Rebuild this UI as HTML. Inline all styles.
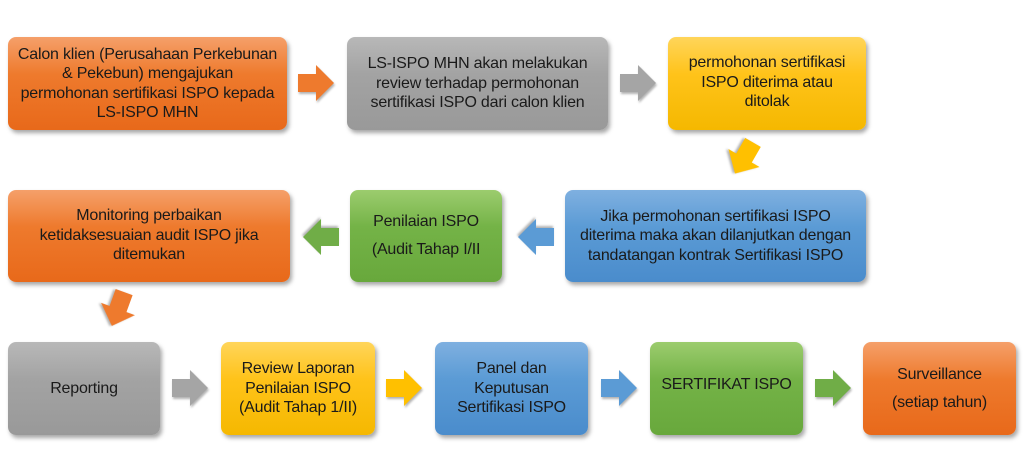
<!DOCTYPE html>
<html><head><meta charset="utf-8"><style>
body{margin:0;width:1024px;height:471px;background:#fff;position:relative;overflow:hidden;font-family:"Liberation Sans",sans-serif}
.b{position:absolute;border-radius:8px;display:flex;align-items:center;justify-content:center;text-align:center;font-size:16px;line-height:19.5px;color:#1a1a1a;box-shadow:2px 3px 4px rgba(0,0,0,.35);box-sizing:border-box;padding:0 2px;white-space:nowrap;letter-spacing:-0.2px}
.o{background:linear-gradient(#f5a06a,#ee7a2d 40%,#e8691a)}
.g{background:linear-gradient(#b8b8b8,#a3a3a3 40%,#999)}
.y{background:linear-gradient(#ffd55a,#ffc31a 40%,#f5b800)}
.bl{background:linear-gradient(#7fb0e0,#5b9bd5 40%,#4a8ccc)}
.gr{background:linear-gradient(#9ccc6e,#74b347 40%,#68a83c)}
svg.a{position:absolute;width:36px;height:36px;filter:drop-shadow(1px 2px 1px rgba(0,0,0,.3))}
</style></head><body>
<div class="b o" style="left:8px;top:37px;width:279px;height:93px">Calon klien (Perusahaan Perkebunan<br>&amp; Pekebun) mengajukan<br>permohonan sertifikasi ISPO kepada<br>LS-ISPO MHN</div>
<div class="b g" style="left:347px;top:37px;width:261px;height:93px">LS-ISPO MHN akan melakukan<br>review terhadap permohonan<br>sertifikasi ISPO dari calon klien</div>
<div class="b y" style="left:668px;top:37px;width:198px;height:93px;align-items:flex-start;padding-top:16px">permohonan sertifikasi<br>ISPO diterima atau<br>ditolak</div>
<div class="b o" style="left:8px;top:190px;width:282px;height:92px;align-items:flex-start;padding-top:16px">Monitoring perbaikan<br>ketidaksesuaian audit ISPO jika<br>ditemukan</div>
<div class="b gr" style="left:350px;top:190px;width:152px;height:92px;line-height:28px">Penilaian ISPO<br>(Audit Tahap I/II</div>
<div class="b bl" style="left:565px;top:190px;width:301px;height:92px">Jika permohonan sertifikasi ISPO<br>diterima maka akan dilanjutkan dengan<br>tandatangan kontrak Sertifikasi ISPO</div>
<div class="b g" style="left:8px;top:342px;width:152px;height:93px">Reporting</div>
<div class="b y" style="left:221px;top:342px;width:154px;height:93px">Review Laporan<br>Penilaian ISPO<br>(Audit Tahap 1/II)</div>
<div class="b bl" style="left:435px;top:342px;width:153px;height:93px">Panel dan<br>Keputusan<br>Sertifikasi ISPO</div>
<div class="b gr" style="left:650px;top:342px;width:153px;height:93px;padding-bottom:8px">SERTIFIKAT ISPO</div>
<div class="b o" style="left:863px;top:342px;width:153px;height:93px;line-height:28px">Surveillance<br>(setiap tahun)</div>

<svg class="a" style="left:298px;top:65px" viewBox="0 0 36 36"><polygon points="0,9 18,9 18,0 36,18 18,36 18,27 0,27" fill="#ee7a2d"/></svg>
<svg class="a" style="left:620px;top:65px" viewBox="0 0 36 36"><polygon points="0,9 18,9 18,0 36,18 18,36 18,27 0,27" fill="#a5a5a5"/></svg>
<svg class="a" style="left:726px;top:140px;transform:rotate(120deg)" viewBox="0 0 36 36"><polygon points="0,9 18,9 18,0 36,18 18,36 18,27 0,27" fill="#ffc000"/></svg>
<svg class="a" style="left:518px;top:219px;transform:rotate(180deg)" viewBox="0 0 36 36"><polygon points="0,9 18,9 18,0 36,18 18,36 18,27 0,27" fill="#5b9bd5"/></svg>
<svg class="a" style="left:303px;top:219px;transform:rotate(180deg)" viewBox="0 0 36 36"><polygon points="0,9 18,9 18,0 36,18 18,36 18,27 0,27" fill="#70ad47"/></svg>
<svg class="a" style="left:100px;top:291px;transform:rotate(110deg)" viewBox="0 0 36 36"><polygon points="0,9 18,9 18,0 36,18 18,36 18,27 0,27" fill="#ee7a2d"/></svg>
<svg class="a" style="left:172px;top:370px" viewBox="0 0 36 36"><polygon points="0,9 18,9 18,0 36,18 18,36 18,27 0,27" fill="#a5a5a5"/></svg>
<svg class="a" style="left:386px;top:370px" viewBox="0 0 36 36"><polygon points="0,9 18,9 18,0 36,18 18,36 18,27 0,27" fill="#ffc000"/></svg>
<svg class="a" style="left:601px;top:370px" viewBox="0 0 36 36"><polygon points="0,9 18,9 18,0 36,18 18,36 18,27 0,27" fill="#5b9bd5"/></svg>
<svg class="a" style="left:815px;top:370px" viewBox="0 0 36 36"><polygon points="0,9 18,9 18,0 36,18 18,36 18,27 0,27" fill="#70ad47"/></svg>
</body></html>
